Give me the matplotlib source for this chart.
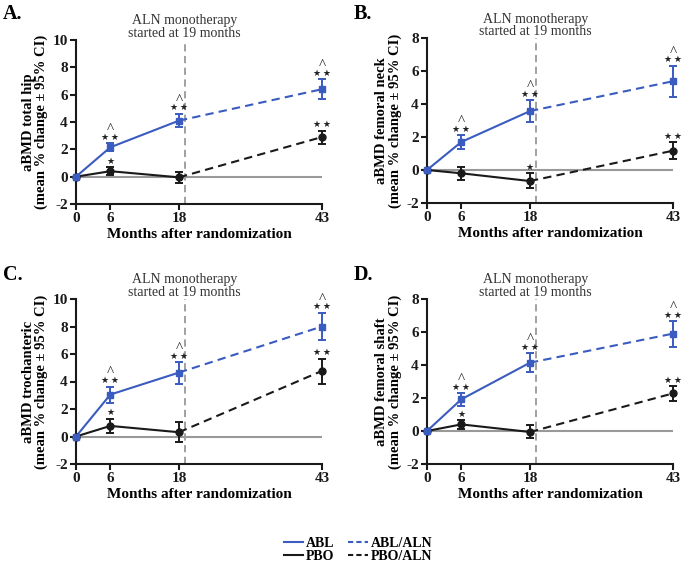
import matplotlib
matplotlib.use('Agg')
import matplotlib.pyplot as plt
import matplotlib.transforms as mtransforms
from matplotlib.lines import Line2D

plt.rcParams['font.family'] = ['Liberation Serif', 'DejaVu Serif']
plt.rcParams['axes.unicode_minus'] = False

months = [0, 6, 18, 43]
month_labels = ['0', '6', '18', '43']

# panel A - total hip
a_abl = [0, 2.15, 4.1, 6.4]
a_abl_lo = [0, 1.85, 3.6, 5.7]
a_abl_hi = [0, 2.45, 4.6, 7.15]
a_pbo = [0, 0.4, -0.05, 2.9]
a_pbo_lo = [0, 0.1, -0.45, 2.4]
a_pbo_hi = [0, 0.68, 0.32, 3.37]

# panel B - femoral neck
b_abl = [0, 1.7, 3.57, 5.38]
b_abl_lo = [0, 1.27, 2.92, 4.44]
b_abl_hi = [0, 2.12, 4.23, 6.31]
b_pbo = [0, -0.2, -0.67, 1.17]
b_pbo_lo = [0, -0.6, -1.11, 0.65]
b_pbo_hi = [0, 0.2, -0.2, 1.69]

# panel C - trochanteric
c_abl = [0, 3.05, 4.65, 8.0]
c_abl_lo = [0, 2.47, 3.85, 7.02]
c_abl_hi = [0, 3.63, 5.42, 9.0]
c_pbo = [0, 0.77, 0.31, 4.77]
c_pbo_lo = [0, 0.24, -0.41, 3.83]
c_pbo_hi = [0, 1.28, 1.04, 5.67]

# panel D - femoral shaft
d_abl = [0, 1.92, 4.14, 5.9]
d_abl_lo = [0, 1.54, 3.6, 5.11]
d_abl_hi = [0, 2.28, 4.71, 6.65]
d_pbo = [0, 0.4, -0.06, 2.28]
d_pbo_lo = [0, 0.12, -0.44, 1.82]
d_pbo_hi = [0, 0.67, 0.34, 2.73]

# significance marks per visit: number of stars, and caret (^) for ABL
abl_stars = [0, 2, 2, 2]
a_pbo_stars = [0, 1, 0, 2]
b_pbo_stars = [0, 0, 1, 2]
c_pbo_stars = [0, 1, 0, 2]
d_pbo_stars = [0, 1, 0, 2]

blue = '#3a5bbf'
black = '#1a1a1a'

panels = [
    ('A.', 'aBMD total hip', 10, a_abl, a_abl_lo, a_abl_hi, a_pbo, a_pbo_lo, a_pbo_hi, a_pbo_stars,
     [76, 40, 322, 204], 19),
    ('B.', 'aBMD femoral neck', 8, b_abl, b_abl_lo, b_abl_hi, b_pbo, b_pbo_lo, b_pbo_hi, b_pbo_stars,
     [427, 38, 673, 203], 19),
    ('C.', 'aBMD trochanteric', 10, c_abl, c_abl_lo, c_abl_hi, c_pbo, c_pbo_lo, c_pbo_hi, c_pbo_stars,
     [76, 299, 322, 464], 280),
    ('D.', 'aBMD femoral shaft', 8, d_abl, d_abl_lo, d_abl_hi, d_pbo, d_pbo_lo, d_pbo_hi, d_pbo_stars,
     [427, 299, 673, 464], 280),
]

W, H = 682, 565
fig = plt.figure(figsize=(W / 100, H / 100), dpi=100)


def draw_series(ax, y, lo, hi, color, marker):
    yerr = [[v - l for v, l in zip(y, lo)], [h - v for v, h in zip(y, hi)]]
    ax.plot(months[:3], y[:3], color=color, lw=1.5, zorder=3, clip_on=False)
    ax.plot(months[2:], y[2:], color=color, lw=1.5, ls=(0, (4, 2.5)), zorder=3, clip_on=False)
    ax.errorbar(months, y, yerr=yerr, fmt=marker, color=color, ms=5, capsize=3,
                elinewidth=1.4, capthick=1.4, zorder=4, clip_on=False)


def mark(ax, x, y, nstars, caret):
    if nstars:
        ax.annotate('\u2009'.join('\u2605' * nstars), (x, y), xytext=(0, 2.5),
                    textcoords='offset points', ha='center', va='baseline', fontsize=6.5,
                    family='DejaVu Sans', color='#222222')
    if caret:
        ax.annotate('^', (x, y), xytext=(0, 7.3), textcoords='offset points',
                    ha='center', va='baseline', fontsize=11, color='#222222')


for letter, ylab, ytop, abl, abl_lo, abl_hi, pbo, pbo_lo, pbo_hi, pbo_stars, box, ly in panels:
    x0, y0, x1, y1 = box
    ax = fig.add_axes([x0 / W, 1 - y1 / H, (x1 - x0) / W, (y1 - y0) / H])
    ax.set_xlim(0, 43)
    ax.set_ylim(-2, ytop)
    ax.set_yticks(range(-2, ytop + 1, 2))
    ax.set_xticks(months)
    ax.set_xticklabels(month_labels)
    for s in ['top', 'right']:
        ax.spines[s].set_visible(False)
    for s in ['left', 'bottom']:
        ax.spines[s].set_linewidth(1.5)
        ax.spines[s].set_color(black)
    ax.tick_params(width=1.5, length=4, labelsize=11, colors=black, pad=2)
    for t in ax.get_xticklabels() + ax.get_yticklabels():
        t.set_fontweight('bold')

    ax.axhline(0, color='#999999', lw=1.5, zorder=1)
    ax.axvline(19, color='#999999', lw=1.3, ls=(0, (4, 2.5)), zorder=1, clip_on=False)

    draw_series(ax, pbo, pbo_lo, pbo_hi, black, 'o')
    draw_series(ax, abl, abl_lo, abl_hi, blue, 's')

    for i in range(len(months)):
        mark(ax, months[i], abl_hi[i], abl_stars[i], abl_stars[i] > 0)
        mark(ax, months[i], pbo_hi[i], pbo_stars[i], False)

    trans = mtransforms.blended_transform_factory(ax.transData, ax.transAxes)
    ax.text(19, 1.0, 'ALN monotherapy\nstarted at 19 months', transform=trans,
            ha='center', va='bottom', fontsize=10, linespacing=0.95, color='#333333')

    ax.set_ylabel(ylab + '\n(mean % change ± 95% CI)', fontsize=10.5, fontweight='bold',
                  linespacing=1.0, labelpad=3)
    ax.set_xlabel('Months after randomization', fontsize=11, fontweight='bold', labelpad=2)
    fig.text((x0 - 73) / W, 1 - ly / H, letter,
             fontsize=14.5, fontweight='bold', ha='left', va='baseline')

handles = [
    Line2D([], [], color=blue, lw=1.5),
    Line2D([], [], color=black, lw=1.5),
    Line2D([], [], color=blue, lw=1.5, ls=(0, (2.5, 1.5))),
    Line2D([], [], color=black, lw=1.5, ls=(0, (2.5, 1.5))),
]
fig.legend(handles, ['ABL', 'PBO', 'ABL/ALN', 'PBO/ALN'], ncol=2, frameon=False,
           loc='center', bbox_to_anchor=(358 / W, 1 - 550 / H), handlelength=1.4,
           handletextpad=0.2, columnspacing=1.0, labelspacing=0.0, borderpad=0,
           prop={'family': 'Liberation Serif', 'weight': 'bold', 'size': 10})

fig.savefig('out.png', dpi=100)
